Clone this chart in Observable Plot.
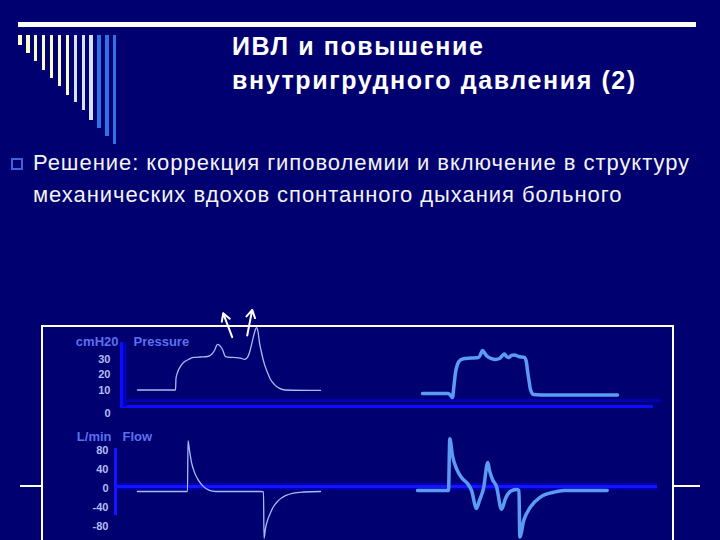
<!DOCTYPE html>
<html><head><meta charset="utf-8">
<script src="https://cdn.jsdelivr.net/npm/d3@7"></script>
<script src="https://cdn.jsdelivr.net/npm/@observablehq/plot@0.6"></script>
<style>
html,body{margin:0;padding:0;}
body{width:720px;height:540px;background:#000070;position:relative;overflow:hidden;font-family:"Liberation Sans",Arial,sans-serif;}
.abs{position:absolute;}
#topbar{left:18px;top:22px;width:678px;height:5px;background:#fff;}
#title{left:232px;top:29px;color:#fff;font-weight:bold;font-size:25px;letter-spacing:1.6px;line-height:34px;white-space:nowrap;}
#bullet{left:11px;top:158px;width:8px;height:8px;border:2px solid #3f62d8;}
#bodytext{left:33px;top:147px;color:#f4f4f4;font-size:22px;letter-spacing:0.95px;line-height:32px;white-space:nowrap;}
#hline{left:20px;top:485px;width:680px;height:2px;background:#fff;}
#box{left:41px;top:325px;width:629px;height:300px;border:2px solid #fff;border-bottom:none;background:#000070;}
#pplot{left:0;top:300px;}
#fplot{left:0;top:420px;}
</style>
</head>
<body>
<div id="topbar" class="abs"></div>
<div id="decor"></div>
<div id="title" class="abs">ИВЛ и повышение<br>внутригрудного давления (2)</div>
<div id="bullet" class="abs"></div>
<div id="bodytext" class="abs">Решение: коррекция гиповолемии и включение в структуру<br>механических вдохов спонтанного дыхания больного</div>
<div id="hline" class="abs"></div>
<div id="box" class="abs"></div>
<div id="pplot" class="abs"></div>
<div id="fplot" class="abs"></div>
<script>
// ---- Data (time in s, pressure in cmH2O, flow in L/min) ----
const pThinT = [0.16,0.54,0.545,0.56,0.59,0.62,0.67,0.72,0.79,0.86,0.90,0.93,0.96,0.99,1.01,1.04,1.11,1.19,1.23,1.26,1.28,1.31,1.33,1.35,1.365,1.38,1.40,1.43,1.46,1.49,1.53,1.58,1.64,1.99];
const pThinV = [10,10,17.4,21.3,25.2,27.7,29.7,31.0,31.3,31.6,32.9,35.5,39.4,38.1,36.1,31.6,31.0,30.6,29.7,31.0,34.2,41.9,47.1,50.3,47.7,40.6,34.2,26.5,21.3,16.8,13.5,11.0,10.0,9.7];

const pThickT = [3.01,3.27,3.31,3.325,3.34,3.36,3.39,3.43,3.49,3.57,3.59,3.61,3.63,3.66,3.70,3.74,3.78,3.81,3.83,3.85,3.87,3.90,3.93,3.97,4.03,4.05,4.06,4.075,4.09,4.12,4.19,4.96];
const pThickV = [7.7,7.7,5.2,12.9,21.3,26.5,29.4,30.3,30.6,31.0,32.9,35.5,33.9,31.6,30.3,29.7,30.3,32.3,33.2,31.6,31.0,32.3,32.6,31.6,31.0,27.7,22.6,16.1,10.3,7.1,6.8,6.8];

const fThinT = [0.16,0.66,0.665,0.68,0.70,0.73,0.77,0.82,0.88,0.94,1.39,1.42,1.425,1.44,1.46,1.49,1.52,1.57,1.64,1.72,1.82,1.99];
const fThinV = [-6.3,-6.3,101,80,55,34,17,4,-4,-6.3,-6.3,-7,-105,-84,-67,-51,-38,-25,-15,-9.5,-7.4,-6.3];

const fThickT = [2.96,3.27,3.283,3.31,3.35,3.40,3.46,3.50,3.55,3.58,3.62,3.663,3.68,3.71,3.75,3.80,3.84,3.89,3.95,3.975,3.983,4.023,4.09,4.19,4.323,4.423,4.857];
const fThickV = [-4.2,-4.2,104.6,69,42,23,10.5,-4,-42,-25,0,55,38,19,4,-44,-21,-6,-2,-4.2,-102,-67,-39,-18,-7.8,-4.2,-4.2];

const pressureTicks = [30, 20, 10];
const pressureZeroTick = [0];
const flowTicks = [80, 40, 0, -40, -80];

// annotation arrows (tail -> head) in data units
const arrowT1 = [1.107, 1.257];
const arrowV1 = [44.1, 45.2];
const arrowT2 = [1.017, 1.307];
const arrowV2 = [59.5, 61.7];

const pressureUnit = "cmH20", pressureName = "Pressure";
const flowUnit = "L/min", flowName = "Flow";

// ---- Decorative slide bars ----
const decorBottoms = [44.7,53,61.3,69.7,78,85.7,94.7,102.3,110.3,119.7,128,135.7,144];
const decor = document.getElementById("decor");
decorBottoms.forEach((b, i) => {
  const d = document.createElement("div");
  d.className = "abs";
  d.style.left = (18.3 + i * 7.9) + "px";
  d.style.top = "35.3px";
  d.style.width = "3.4px";
  d.style.height = (b - 35.3) + "px";
  d.style.background = i < 7 ? "#fcfcc8" : (i < 10 ? "#d8e0fc" : "#2f72e6");
  decor.appendChild(d);
});

const zip = (T, V) => T.map((t, i) => ({t, v: V[i]}));
const pThin = zip(pThinT, pThinV), pThick = zip(pThickT, pThickV);
const fThin = zip(fThinT, fThinV), fThick = zip(fThickT, fThickV);
const arrows = arrowT1.map((t, i) => ({x1: t, y1: arrowV1[i], x2: arrowT2[i], y2: arrowV2[i]}));

const font = "Liberation Sans, Arial, sans-serif";
const axisStyle = {anchor: "left", tickSize: 0, color: "#b4bcf4", fontWeight: "bold", fontSize: 11, label: null, tickFormat: d => String(d)};
const labelStyle = {fill: "#5c70ee", fontWeight: "bold", fontSize: 13};

const pressure = Plot.plot({
  width: 720, height: 120,
  marginLeft: 121, marginRight: 59, marginTop: 0, marginBottom: 15,
  x: {domain: [0, 5.4], axis: null, label: null},
  y: {domain: [0, 67.74], axis: null, label: null},
  style: {background: "transparent", overflow: "visible", fontFamily: font},
  marks: [
    Plot.ruleY([0], {x1: -0.01, x2: 5.4, dy: -5, stroke: "#0000b0", strokeWidth: 3}),
    Plot.ruleY([0], {x1: -0.01, x2: 5.32, dy: 1, stroke: "#0c0cff", strokeWidth: 3}),
    Plot.ruleX([0], {y1: -1, y2: 40.6, dx: 3, stroke: "#0000b0", strokeWidth: 4}),
    Plot.ruleX([0], {y1: -1, y2: 40.6, stroke: "#0c0cff", strokeWidth: 3}),
    Plot.line(pThin, {x: "t", y: "v", stroke: "#a6bcf8", strokeWidth: 1.3, curve: "monotone-x"}),
    Plot.line(pThick, {x: "t", y: "v", stroke: "#5b9bf5", strokeWidth: 3.5, curve: "monotone-x"}),
    Plot.arrow(arrows, {x1: "x1", y1: "y1", x2: "x2", y2: "y2", stroke: "white", strokeWidth: 2, headLength: 9}),
    Plot.axisY(pressureTicks, {...axisStyle, tickPadding: 11}),
    Plot.axisY(pressureZeroTick, {...axisStyle, tickPadding: 11, dy: 8}),
    Plot.text([pressureUnit], {x: -0.03, y: 41.3, text: d => d, textAnchor: "end", ...labelStyle}),
    Plot.text([pressureName], {x: 0.12, y: 41.3, text: d => d, textAnchor: "start", ...labelStyle})
  ]
});
document.getElementById("pplot").appendChild(pressure);

const flow = Plot.plot({
  width: 720, height: 120,
  marginLeft: 121, marginRight: 59, marginTop: 0, marginBottom: 0,
  x: {domain: [0, 5.4], axis: null, label: null},
  y: {domain: [-109.5, 143.2], axis: null, label: null},
  style: {background: "transparent", overflow: "visible", fontFamily: font},
  marks: [
    Plot.ruleY([0], {x1: -0.06, x2: 5.36, dy: -2, stroke: "#0000b0", strokeWidth: 7}),
    Plot.ruleY([0], {x1: -0.06, x2: 5.36, dy: -2, stroke: "#1414ff", strokeWidth: 3}),
    Plot.ruleX([-0.06], {y1: -57, y2: 84, stroke: "#1414ff", strokeWidth: 3}),
    Plot.line(fThin, {x: "t", y: "v", stroke: "#a6bcf8", strokeWidth: 1.3, curve: "monotone-x"}),
    Plot.line(fThick, {x: "t", y: "v", stroke: "#5b9bf5", strokeWidth: 3.5, curve: "monotone-x"}),
    Plot.axisY(flowTicks, {...axisStyle, tickPadding: 13}),
    Plot.text([flowUnit], {x: -0.10, y: 108.5, text: d => d, textAnchor: "end", ...labelStyle}),
    Plot.text([flowName], {x: 0.01, y: 108.5, text: d => d, textAnchor: "start", ...labelStyle})
  ]
});
document.getElementById("fplot").appendChild(flow);
</script>
</body></html>
